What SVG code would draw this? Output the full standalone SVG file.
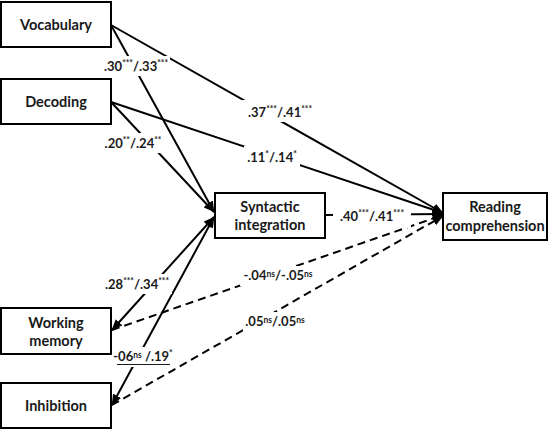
<svg xmlns="http://www.w3.org/2000/svg" width="555" height="430" viewBox="0 0 555 430">
<style>
.box{fill:#fff;stroke:#000;stroke-width:2}
.nt{font-family:Lato,"Liberation Sans",sans-serif;font-weight:bold;font-size:14.5px;fill:#1a1a1a;text-anchor:middle}
.ln{stroke:#000;stroke-width:2;fill:none}
.dash{stroke-dasharray:8 5}
.lb{font-family:Lato,"Liberation Sans",sans-serif;font-weight:bold;font-size:13px;fill:#1a1a1a;text-anchor:middle}
.sp{font-size:8.5px}
.bg{fill:#fff}
</style>
<defs>
<marker id="ah" viewBox="0 0 11 9" refX="10.5" refY="4.5" markerWidth="11" markerHeight="9" markerUnits="userSpaceOnUse" orient="auto-start-reverse">
<path d="M0,0 L11,4.5 L0,9 z" fill="#000"/>
</marker>
</defs>
<rect width="555" height="430" fill="#fff"/>
<g id="connectors">
<line class="ln" x1="111" y1="25" x2="214" y2="212" marker-end="url(#ah)"/>
<line class="ln" x1="111" y1="102" x2="214" y2="212" marker-end="url(#ah)"/>
<line class="ln" x1="111" y1="25" x2="443" y2="213" marker-end="url(#ah)"/>
<line class="ln" x1="111" y1="102" x2="443" y2="213" marker-end="url(#ah)"/>
<line class="ln" x1="112" y1="330" x2="214" y2="217" marker-start="url(#ah)" marker-end="url(#ah)"/>
<line class="ln" x1="112" y1="405" x2="214" y2="217" marker-start="url(#ah)" marker-end="url(#ah)"/>
<line class="ln" x1="325" y1="215" x2="443" y2="214" marker-end="url(#ah)"/>
<line class="ln dash" x1="112" y1="330" x2="443" y2="215" marker-end="url(#ah)"/>
<line class="ln dash" x1="112" y1="405" x2="443" y2="216" marker-end="url(#ah)"/>
</g>
<g id="labels">
<rect class="bg" x="102" y="56" width="68" height="20"/>
<text class="lb" x="136" y="71">.30<tspan class="sp" dy="-5">***</tspan><tspan dy="5">/.33</tspan><tspan class="sp" dy="-5">***</tspan></text>
<rect class="bg" x="102" y="133" width="62" height="20"/>
<text class="lb" x="133" y="148">.20<tspan class="sp" dy="-5">**</tspan><tspan dy="5">/.24</tspan><tspan class="sp" dy="-5">**</tspan></text>
<rect class="bg" x="242" y="100" width="76" height="22"/>
<text class="lb" x="280" y="117">.37<tspan class="sp" dy="-5">***</tspan><tspan dy="5">/.41</tspan><tspan class="sp" dy="-5">***</tspan></text>
<rect class="bg" x="244" y="146" width="56" height="22"/>
<text class="lb" x="272" y="162">.11<tspan class="sp" dy="-5">*</tspan><tspan dy="5">/.14</tspan><tspan class="sp" dy="-5">*</tspan></text>
<rect class="bg" x="333" y="206" width="78" height="22"/>
<text class="lb" x="372" y="221">.40<tspan class="sp" dy="-5">***</tspan><tspan dy="5">/.41</tspan><tspan class="sp" dy="-5">***</tspan></text>
<rect class="bg" x="102" y="274" width="70" height="20"/>
<text class="lb" x="137" y="289">.28<tspan class="sp" dy="-5">***</tspan><tspan dy="5">/.34</tspan><tspan class="sp" dy="-5">***</tspan></text>
<rect class="bg" x="114" y="347" width="60" height="20"/>
<text class="lb" x="143" y="361">-06<tspan class="sp" dy="-3">ns</tspan><tspan dy="3"> /.19</tspan><tspan class="sp" dy="-5">*</tspan></text>
<line x1="117" y1="364.5" x2="170" y2="364.5" stroke="#1a1a1a" stroke-width="1"/>
<rect class="bg" x="240" y="266" width="76" height="20"/>
<text class="lb" x="278" y="280">-.04<tspan class="sp" dy="-3">ns</tspan><tspan dy="3">/-.05</tspan><tspan class="sp" dy="-3">ns</tspan></text>
<rect class="bg" x="243" y="312" width="64" height="20"/>
<text class="lb" x="275" y="326">.05<tspan class="sp" dy="-3">ns</tspan><tspan dy="3">/.05</tspan><tspan class="sp" dy="-3">ns</tspan></text>
</g>
<g id="vocabulary">
<rect class="box" x="1" y="2" width="110" height="45"/>
<text class="nt" x="56" y="30">Vocabulary</text>
</g>
<g id="decoding">
<rect class="box" x="1" y="79" width="110" height="45"/>
<text class="nt" x="56" y="107">Decoding</text>
</g>
<g id="working-memory">
<rect class="box" x="1" y="308" width="110" height="46"/>
<text class="nt" x="56" y="328">Working</text>
<text class="nt" x="56" y="346">memory</text>
</g>
<g id="inhibition">
<rect class="box" x="1" y="383" width="110" height="45"/>
<text class="nt" x="56" y="411">Inhibition</text>
</g>
<g id="syntactic-integration">
<rect class="box" x="215" y="193" width="110" height="45"/>
<text class="nt" x="270" y="212">Syntactic</text>
<text class="nt" x="270" y="230">integration</text>
</g>
<g id="reading-comprehension">
<rect class="box" x="443" y="193" width="104" height="47"/>
<text class="nt" x="495" y="212">Reading</text>
<text class="nt" x="495" y="231">comprehension</text>
</g>
</svg>
